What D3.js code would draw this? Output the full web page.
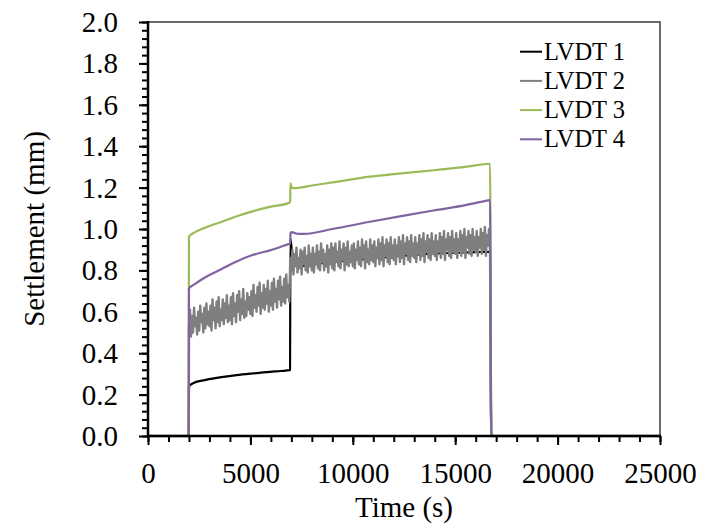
<!DOCTYPE html>
<html>
<head>
<meta charset="utf-8">
<script src="https://cdn.jsdelivr.net/npm/d3@7"></script>
<style>
  html, body { margin: 0; padding: 0; background: #fff; }
  svg { display: block; font-family: "Liberation Serif", "Times New Roman", serif; }
</style>
</head>
<body>
<svg id="chart" width="701" height="525"></svg>
<script>
// ---- data ----
const seriesNames = ["LVDT 1", "LVDT 2", "LVDT 3", "LVDT 4"];
const seriesColors = ["#000000", "#7f7f7f", "#9bbb59", "#8064a2"];
const xTicks = [0, 5000, 10000, 15000, 20000, 25000];
const yTicks = [0, 0.2, 0.4, 0.6, 0.8, 1.0, 1.2, 1.4, 1.6, 1.8, 2.0];

const lvdt1Time = [0, 1990, 2000, 2200, 2700, 3500, 4330, 5100, 5957, 6500, 6920, 6935, 6955, 7050, 7150, 7400, 8500, 10000, 11500, 14100, 16000, 16700, 16760, 25000];
const lvdt1Value = [0, 0, 0.24, 0.255, 0.269, 0.283, 0.294, 0.302, 0.31, 0.314, 0.318, 0.32, 0.955, 0.86, 0.83, 0.82, 0.835, 0.85, 0.863, 0.882, 0.888, 0.89, 0, 0];

// LVDT 2: noisy record, one reading every 50 s from 2000 s to 16700 s
const lvdt2Start = 2000, lvdt2Step = 50;
const lvdt2Value = [
  0.52,0.61,0.48,0.58,0.50,0.62,0.53,0.57,0.49,0.60,0.51,0.63,0.55,0.59,0.50,0.62,0.52,0.64,0.54,0.60,
  0.53,0.63,0.51,0.66,0.56,0.62,0.52,0.65,0.55,0.67,0.53,0.61,0.56,0.66,0.54,0.64,0.57,0.68,0.55,0.63,
  0.56,0.67,0.54,0.69,0.58,0.64,0.55,0.68,0.60,0.70,0.56,0.66,0.59,0.71,0.57,0.65,0.58,0.69,0.61,0.67,
  0.59,0.70,0.58,0.73,0.62,0.68,0.60,0.72,0.63,0.74,0.59,0.69,0.62,0.73,0.61,0.71,0.64,0.75,0.60,0.70,
  0.63,0.74,0.61,0.76,0.65,0.71,0.62,0.75,0.66,0.77,0.63,0.72,0.65,0.76,0.64,0.78,0.67,0.73,0.65,0.86,
  0.80,0.90,0.78,0.88,0.82,0.91,0.79,0.86,0.81,0.90,0.78,0.89,0.83,0.91,0.80,0.87,0.79,0.92,0.82,0.88,
  0.80,0.91,0.79,0.88,0.83,0.92,0.81,0.89,0.80,0.93,0.84,0.90,0.80,0.88,0.82,0.92,0.79,0.90,0.83,0.93,
  0.81,0.91,0.80,0.93,0.84,0.89,0.82,0.94,0.81,0.90,0.85,0.93,0.80,0.91,0.83,0.94,0.82,0.89,0.84,0.92,
  0.82,0.93,0.81,0.90,0.85,0.94,0.83,0.91,0.82,0.95,0.86,0.92,0.81,0.94,0.84,0.90,0.83,0.95,0.85,0.92,
  0.84,0.94,0.82,0.91,0.86,0.95,0.83,0.93,0.85,0.96,0.82,0.92,0.87,0.95,0.84,0.93,0.83,0.96,0.86,0.92,
  0.85,0.95,0.83,0.92,0.87,0.96,0.84,0.94,0.86,0.97,0.83,0.93,0.88,0.96,0.85,0.94,0.84,0.97,0.87,0.93,
  0.86,0.96,0.84,0.93,0.88,0.97,0.85,0.95,0.87,0.98,0.84,0.94,0.89,0.97,0.86,0.95,0.85,0.98,0.88,0.94,
  0.87,0.97,0.85,0.94,0.89,0.98,0.86,0.96,0.88,0.99,0.85,0.95,0.90,0.98,0.87,0.96,0.86,0.99,0.89,0.95,
  0.88,0.98,0.86,0.95,0.90,0.99,0.87,0.97,0.89,1.00,0.86,0.96,0.91,0.99,0.88,0.97,0.87,1.00,0.90,0.96,
  0.89,0.99,0.87,0.96,0.91,1.00,0.88,0.98,0.90,1.01,0.87,0.97,0.92,1.00,0.90
];

const lvdt3Time = [0, 1990, 2000, 2300, 2700, 3100, 3500, 4300, 5100, 6000, 6850, 6940, 6960, 7000, 7100, 8000, 9000, 10840, 12000, 14100, 15500, 16540, 16700, 16760, 25000];
const lvdt3Value = [0, 0, 0.963, 0.985, 1.003, 1.018, 1.031, 1.06, 1.085, 1.108, 1.125, 1.13, 1.222, 1.205, 1.197, 1.21, 1.225, 1.253, 1.265, 1.285, 1.30, 1.314, 1.315, 0, 0];

const lvdt4Time = [0, 1990, 2000, 2300, 2700, 3500, 4300, 5100, 6000, 6850, 6940, 6960, 7015, 7300, 7600, 9000, 10840, 12500, 14100, 15500, 16540, 16700, 16760, 25000];
const lvdt4Value = [0, 0, 0.713, 0.735, 0.761, 0.802, 0.842, 0.874, 0.898, 0.927, 0.93, 0.98, 0.985, 0.977, 0.976, 1.00, 1.035, 1.065, 1.092, 1.115, 1.137, 1.14, 0, 0];

// ---- build point lists ----
const zip = (ts, vs) => ts.map((t, i) => [t, vs[i]]);
const lvdt2Points = [[0, 0], [1990, 0]]
  .concat(lvdt2Value.map((v, i) => [lvdt2Start + i * lvdt2Step, v]))
  .concat([[16760, 0], [25000, 0]]);
const series = [
  { pts: zip(lvdt1Time, lvdt1Value), smooth: true },
  { pts: lvdt2Points, smooth: false },
  { pts: zip(lvdt3Time, lvdt3Value), smooth: true },
  { pts: zip(lvdt4Time, lvdt4Value), smooth: true }
];

// ---- layout ----
const mLeft = 148, mRight = 660, mTop = 22, mBottom = 436;
const svg = d3.select("#chart");
const x = d3.scaleLinear().domain([0, 25000]).range([mLeft, mRight]);
const y = d3.scaleLinear().domain([0, 2]).range([mBottom, mTop]);

// plot border
svg.append("rect")
  .attr("x", mLeft).attr("y", mTop)
  .attr("width", mRight - mLeft).attr("height", mBottom - mTop)
  .attr("fill", "none").attr("stroke", "#3a3a3a").attr("stroke-width", 1.5);

// series
const lineSmooth = d3.line().x(d => x(d[0])).y(d => y(d[1])).curve(d3.curveMonotoneX);
const lineRaw = d3.line().x(d => x(d[0])).y(d => y(d[1]));
const g = svg.append("g");
series.forEach((s, i) => {
  g.append("path")
    .datum(s.pts)
    .attr("fill", "none")
    .attr("stroke", seriesColors[i])
    .attr("stroke-width", s.smooth ? 2.2 : 2.4)
    .attr("stroke-linejoin", "round")
    .attr("d", s.smooth ? lineSmooth : lineRaw);
});

// axes
const xMinor = d3.range(0, 25001, 1000);
const yMinor = d3.range(0, 50.5, 1).map(d => d * 0.04);

const xAxisG = svg.append("g").attr("transform", `translate(0,${mBottom})`);
xAxisG.call(d3.axisBottom(x).tickValues(xMinor).tickSize(6).tickFormat(""))
  .call(s => s.select(".domain").remove());
xAxisG.append("g").call(d3.axisBottom(x).tickValues(xTicks).tickSize(9).tickFormat(d3.format("d")))
  .call(s => s.select(".domain").remove());
xAxisG.selectAll("line").attr("stroke", "#000").attr("stroke-width", 2);
xAxisG.selectAll("text")
  .attr("font-size", 29).attr("fill", "#000")
  .attr("font-family", "Liberation Serif, Times New Roman, serif")
  .attr("y", 47).attr("dy", 0);
xAxisG.append("line").attr("x1", mLeft - 1).attr("x2", mRight + 1).attr("y1", 0).attr("y2", 0)
  .attr("stroke", "#000").attr("stroke-width", 2.5);

const yAxisG = svg.append("g").attr("transform", `translate(${mLeft},0)`);
yAxisG.call(d3.axisLeft(y).tickValues(yMinor).tickSize(6).tickFormat(""))
  .call(s => s.select(".domain").remove());
yAxisG.append("g").call(d3.axisLeft(y).tickValues(yTicks).tickSize(9).tickFormat(d3.format(".1f")))
  .call(s => s.select(".domain").remove());
yAxisG.selectAll("line").attr("stroke", "#000").attr("stroke-width", 2);
yAxisG.selectAll("text")
  .attr("font-size", 29).attr("fill", "#000")
  .attr("font-family", "Liberation Serif, Times New Roman, serif")
  .attr("x", -30).attr("dy", "0.33em");
yAxisG.append("line").attr("x1", 0).attr("x2", 0).attr("y1", mTop - 1).attr("y2", mBottom + 1)
  .attr("stroke", "#000").attr("stroke-width", 2.5);

// axis titles
svg.append("text")
  .attr("x", (mLeft + mRight) / 2).attr("y", 517)
  .attr("text-anchor", "middle").attr("font-size", 29).attr("fill", "#000")
  .text("Time (s)");
svg.append("text")
  .attr("transform", `translate(44,229) rotate(-90)`)
  .attr("text-anchor", "middle").attr("font-size", 29).attr("fill", "#000")
  .text("Settlement (mm)");

// legend
const legendY = [51.7, 80.9, 110.1, 139.3];
const lg = svg.append("g");
seriesNames.forEach((name, i) => {
  lg.append("line")
    .attr("x1", 520).attr("x2", 542)
    .attr("y1", legendY[i]).attr("y2", legendY[i])
    .attr("stroke", seriesColors[i]).attr("stroke-width", 2);
  lg.append("text")
    .attr("x", 544).attr("y", legendY[i] + 8)
    .attr("font-size", 24.5).attr("fill", "#000")
    .text(name);
});
</script>
</body>
</html>
